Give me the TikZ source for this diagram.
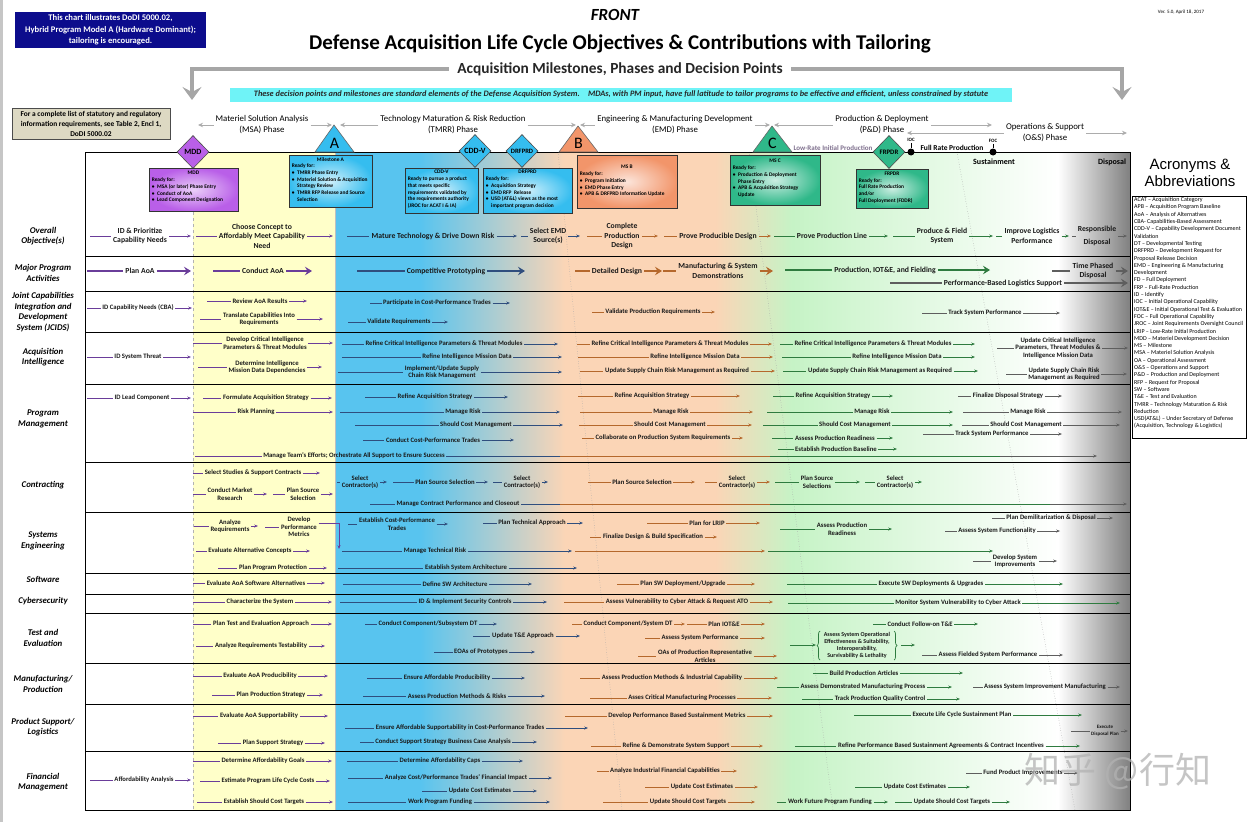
\documentclass[tikz,border=0pt]{standalone}
\usepackage{fontspec}
\setmainfont{Carlito}
\newfontfamily\arialfont{Liberation Sans}
\newfontfamily\cjkfont{Noto Sans CJK SC}
\usetikzlibrary{arrows.meta,shapes.geometric,decorations.pathreplacing}

\definecolor{msacol}{HTML}{6A3D9A}
\definecolor{tmrrcol}{HTML}{2F4E7E}
\definecolor{emdcol}{HTML}{B5682C}
\definecolor{pdcol}{HTML}{2E7B3F}
\definecolor{oscol}{HTML}{5E5E5E}
\definecolor{msabg}{HTML}{FFFFC9}
\definecolor{tmrrbg}{HTML}{58C4EF}
\definecolor{emdbg}{HTML}{FBD5B6}
\definecolor{pdbg}{HTML}{C6F3C6}
\definecolor{osbg}{HTML}{808080}
\definecolor{noteblue}{HTML}{0C0C8C}
\definecolor{tanfill}{HTML}{DDD9C3}
\definecolor{bannerfill}{HTML}{6FF3F7}
\definecolor{mddfill}{HTML}{B95FE8}
\definecolor{tmrrfill}{HTML}{35BDEF}
\definecolor{emdfill}{HTML}{F2956A}
\definecolor{pdfill}{HTML}{2FB889}
\definecolor{lripcol}{HTML}{7D6E8C}
\definecolor{bracketcol}{HTML}{A6A6A6}

\newcommand{\mbul}{\textbullet\enspace}
\newcommand{\mpad}{\phantom{\textbullet\enspace}}

% [node style]{name}{colour}{x start}{x centre}{y}{x end}{text}
\newcommand{\acttask}[8][tasktext]{%
  \node[#1] (#2) at (#5,#6) {#8};
  \coordinate (#2-in) at (#4,#6);
  \coordinate (#2-out) at (#7,#6);
  \draw[#3] (#2-in) -- (#2.west);
  \draw[#3,taskarrow] (#2.east) -- (#2-out);
}
\newcommand{\bigtask}[7]{%
  \node[bigtext] (#1) at (#4,#5) {#7};
  \coordinate (#1-in) at (#3,#5);
  \coordinate (#1-out) at (#6,#5);
  \draw[#2,bigln] (#1-in) -- (#1.west);
  \draw[#2,bigln,bigarrow] (#1.east) -- (#1-out);
}

\tikzset{
  tasktext/.style={font=\bfseries\fontsize{6.7}{7.4}\selectfont, inner sep=1.5pt, align=center, text=black!90},
  bigtext/.style={font=\bfseries\fontsize{7.7}{9.6}\selectfont, inner sep=2pt, align=center, text=black!90},
  rowlabel/.style={font=\bfseries\itshape\fontsize{8.8}{10.4}\selectfont, align=center},
  msaln/.style={draw=msacol, line width=0.7pt},
  tmrrln/.style={draw=tmrrcol, line width=0.7pt},
  emdln/.style={draw=emdcol, line width=0.7pt},
  pdln/.style={draw=pdcol, line width=0.7pt},
  osln/.style={draw=oscol, line width=0.7pt},
  taskarrow/.style={-{Stealth[length=3.8pt,width=3pt]}},
  bigln/.style={line width=2.6pt},
  bigarrow/.style={-{Stealth[length=7pt,width=8.5pt,inset=2.5pt]}},
  rowline/.style={draw=black, line width=0.9pt},
  divider/.style={draw=gray!70, dotted, line width=0.5pt},
  phasetext/.style={font=\fontsize{8.8}{11}\selectfont, align=center, inner sep=2pt},
  phasearrow/.style={draw=gray!65, line width=0.8pt, -{Stealth[length=5pt,width=4.5pt]}},
  msdiamond/.style={diamond, draw=black!70, line width=0.6pt, minimum width=32pt, minimum height=33pt, inner sep=0pt, font=\bfseries\fontsize{8}{8}\selectfont},
  mstri/.style={draw=black!60, line width=0.6pt},
  msletter/.style={font=\fontsize{16}{16}\selectfont, inner sep=0pt},
  infobox/.style={draw=black!80, line width=0.8pt, inner sep=0pt},
  boxtitle/.style={font=\bfseries\fontsize{5.4}{6.8}\selectfont, inner sep=0pt},
  boxbody/.style={font=\bfseries\fontsize{5.4}{6.8}\selectfont, align=left, inner sep=0pt},
  milestonedot/.style={circle, fill=black, inner sep=0pt, minimum size=7pt},
  tinylabel/.style={font=\bfseries\fontsize{5}{5}\selectfont, inner sep=1pt},
  acrotext/.style={font=\fontsize{6}{7.3}\selectfont, align=left, inner sep=0pt},
}

\begin{document}
\begin{tikzpicture}[x=1pt,y=-1pt]
\useasboundingbox (0,0) rectangle (1248,822);
\fill[gray!45] (0,0) rectangle (3,822);

% phase backgrounds
\fill[msabg] (193,152) rectangle (335,810);
\fill[tmrrbg] (335,152) rectangle (420,810);
\shade[left color=tmrrbg, right color=emdbg] (420,152) rectangle (565,810);
\fill[emdbg] (565,152) rectangle (715,810);
\shade[left color=emdbg, right color=pdbg] (715,152) rectangle (792,810);
\shade[left color=pdbg, right color=white] (792,152) rectangle (1058,810);
\shade[left color=white, right color=osbg] (1058,152) rectangle (1130,810);
\draw[gray!60, dashed, line width=0.4pt] (193,152) -- (193,810);
\draw[gray!50, line width=0.4pt] (335,152) -- (335,810);
\draw[divider] (558,152) -- (622,810);
\draw[divider] (749,152) -- (833,810);
\draw[divider] (957,152) -- (1075,810);
\foreach \yy in {256,291,332,384,462,512,573,594,613,663,704,751}
  \draw[rowline] (85,\yy) -- (1130,\yy);
\draw[rowline] (85,152) rectangle (1130,810);

% heading
\node[font=\bfseries\itshape\fontsize{17}{17}\selectfont] (front) at (615,15) {FRONT};
\node[font=\bfseries\fontsize{21}{21}\selectfont] (title) at (620,44) {Defense Acquisition Life Cycle Objectives \& Contributions with Tailoring};
\node[font=\fontsize{5}{5}\selectfont] (version) at (1181,12) {Ver. 5.0, April 18, 2017};
\node[fill=noteblue, text=white, font=\bfseries\fontsize{8.6}{11.5}\selectfont, align=center, minimum width=191pt, minimum height=36pt, inner sep=0pt] (note) at (110.5,30) {This chart illustrates DoDI 5000.02,\\Hybrid Program Model A (Hardware Dominant);\\tailoring is encouraged.};
\draw[draw=bracketcol, line width=4pt, {Stealth[length=13pt,width=19pt,inset=5pt]}-{Stealth[length=13pt,width=19pt,inset=5pt]}] (192,100) -- (192,69) -- (1122,69) -- (1122,100);
\node[fill=white, inner xsep=8pt, font=\bfseries\fontsize{15.4}{15.4}\selectfont, text=black!85] (mstitle) at (620,69) {Acquisition Milestones, Phases and Decision Points};
\node[fill=bannerfill, minimum width=782pt, minimum height=14pt, inner sep=0pt, font=\bfseries\itshape\fontsize{8.3}{8.3}\selectfont, text=black!85] (tailor) at (621,94.5) {These decision points and milestones are standard elements of the Defense Acquisition System.\quad MDAs, with PM input, have full latitude to tailor programs to be effective and efficient, unless constrained by statute};
\node[fill=tanfill, draw=black!70, line width=0.8pt, minimum width=158pt, minimum height=31pt, inner sep=0pt, font=\bfseries\fontsize{7.4}{10}\selectfont, align=center] (reqs) at (91,123.5) {For a complete list of statutory and regulatory\\information requirements, see Table 2, Encl 1,\\DoDI 5000.02};

% phases
\node[phasetext] (phMSA) at (262,125) {Materiel Solution Analysis\\(MSA) Phase};
\draw[phasearrow] (phMSA.west) -- (198,125);
\draw[phasearrow] (phMSA.east) -- (332,125);
\node[phasetext] (phTMRR) at (453,125) {Technology Maturation \& Risk Reduction\\(TMRR) Phase};
\draw[phasearrow] (phTMRR.west) -- (340,125);
\draw[phasearrow] (phTMRR.east) -- (576,125);
\node[phasetext] (phEMD) at (675,125) {Engineering \& Manufacturing Development\\(EMD) Phase};
\draw[phasearrow] (phEMD.west) -- (580,125);
\draw[phasearrow] (phEMD.east) -- (770,125);
\node[phasetext] (phPD) at (882,125) {Production \& Deployment\\(P\&D) Phase};
\draw[phasearrow] (phPD.west) -- (774,125);
\draw[phasearrow] (phPD.east) -- (992,125);
\node[phasetext] (phOS) at (1045,133) {Operations \& Support\\(O\&S) Phase};
\draw[phasearrow] (phOS.west) -- (907,133);
\draw[phasearrow] (phOS.east) -- (1127,133);

% milestones and decision points
\node[msdiamond, fill=mddfill] (mdd) at (193,152) {MDD};
\filldraw[mstri, fill=tmrrfill] (315,152) -- (334,125) -- (354,152) -- cycle;
\node[msletter] (msA) at (334.5,143) {A};
\filldraw[mstri, fill=emdfill] (559,152) -- (578,126) -- (598,152) -- cycle;
\node[msletter] (msB) at (578.5,143) {B};
\filldraw[mstri, fill=pdfill] (753,152) -- (772,126) -- (792,152) -- cycle;
\node[msletter] (msC) at (772.5,143) {C};
\node[msdiamond, fill=tmrrfill] (cddv) at (475,151) {CDD-V};
\node[msdiamond, fill=tmrrfill, font=\bfseries\fontsize{6.6}{6.6}\selectfont] (drfprd) at (522,151) {DRFPRD};
\node[msdiamond, fill=pdfill, font=\bfseries\fontsize{6.8}{6.8}\selectfont] (frpdr) at (889,152) {FRPDR};
\node[milestonedot] (ioc) at (911,152) {};
\node[tinylabel] (ioclbl) at (911,140) {IOC};
\draw[line width=0.6pt] (ioclbl) -- (ioc);
\node[milestonedot] (foc) at (993,152) {};
\node[tinylabel] (foclbl) at (993,141) {FOC};
\draw[line width=0.6pt] (foclbl) -- (foc);
\node[font=\bfseries\fontsize{7}{7}\selectfont, text=lripcol] (lrip) at (833,148) {Low-Rate Initial Production};
\node[font=\bfseries\fontsize{7.5}{7.5}\selectfont] (frp) at (952,148) {Full Rate Production};
\node[font=\bfseries\fontsize{8}{8}\selectfont] (sust) at (994,162) {Sustainment};
\node[font=\bfseries\fontsize{8}{8}\selectfont] (disp) at (1112,162) {Disposal};

% decision boxes
\node[infobox, inner color=mddfill!30, outer color=mddfill, minimum width=89pt, minimum height=43pt] (mddbox) at (193.5,189.5) {};
\node[boxtitle, anchor=north] (mddtitle) at ([yshift=-3pt]mddbox.north) {MDD};
\node[boxbody, anchor=north west] (mddbody) at ([xshift=3pt,yshift=-10pt]mddbox.north west) {Ready for:\\\mbul MSA (or later) Phase Entry\\\mbul Conduct of AoA\\\mbul Lead Component Designation};
\node[infobox, inner color=tmrrfill!25, outer color=tmrrfill, minimum width=83pt, minimum height=52pt] (msabox) at (330.5,181) {};
\node[boxtitle, anchor=north] (msatitle) at ([yshift=-2.5pt]msabox.north) {Milestone A};
\node[boxbody, anchor=north west] (msabody) at ([xshift=3pt,yshift=-9pt]msabox.north west) {Ready for:\\\mbul TMRR Phase Entry\\\mbul Materiel Solution \& Acquisition\\\mpad Strategy Review\\\mbul TMRR RFP Release and Source\\\mpad Selection};
\node[infobox, inner color=tmrrfill!25, outer color=tmrrfill, minimum width=73pt, minimum height=45pt] (cddvbox) at (441.5,190.5) {};
\node[boxtitle, anchor=north] (cddvtitle) at ([yshift=-2.5pt]cddvbox.north) {CDD-V};
\node[boxbody, anchor=north west] (cddvbody) at ([xshift=3pt,yshift=-9pt]cddvbox.north west) {Ready to pursue a product\\that meets specific\\requirements validated by\\the requirements authority\\(JROC for ACAT I \& IA)};
\node[infobox, inner color=tmrrfill!25, outer color=tmrrfill, minimum width=89pt, minimum height=45pt] (drfbox) at (527.5,190.5) {};
\node[boxtitle, anchor=north] (drftitle) at ([yshift=-2.5pt]drfbox.north) {DRFPRD};
\node[boxbody, anchor=north west] (drfbody) at ([xshift=3pt,yshift=-9pt]drfbox.north west) {Ready for:\\\mbul Acquisition Strategy\\\mbul EMD RFP\ \ Release\\\mbul USD (AT\&L) views as the most\\\mpad important program decision};
\node[infobox, inner color=emdfill!25, outer color=emdfill, minimum width=100pt, minimum height=53pt] (msbbox) at (627,181.5) {};
\node[boxtitle, anchor=north] (msbtitle) at ([yshift=-10pt]msbbox.north) {MS B};
\node[boxbody, anchor=north west] (msbbody) at ([xshift=3pt,yshift=-17pt]msbbox.north west) {Ready for:\\\mbul Program Initiation\\\mbul EMD Phase Entry\\\mbul APB \& DRFPRD Information Update};
\node[infobox, inner color=pdfill!25, outer color=pdfill, minimum width=90pt, minimum height=50pt] (mscbox) at (775,180) {};
\node[boxtitle, anchor=north] (msctitle) at ([yshift=-4pt]mscbox.north) {MS C};
\node[boxbody, anchor=north west] (mscbody) at ([xshift=3pt,yshift=-11pt]mscbox.north west) {Ready for:\\\mbul Production \& Deployment\\\mpad Phase Entry\\\mbul APB \& Acquisition Strategy\\\mpad Update};
\node[infobox, inner color=pdfill!25, outer color=pdfill, minimum width=72pt, minimum height=39pt] (frpbox) at (892,188.5) {};
\node[boxtitle, anchor=north] (frptitle) at ([yshift=-3pt]frpbox.north) {FRPDR};
\node[boxbody, anchor=north west] (frpbody) at ([xshift=3pt,yshift=-9.5pt]frpbox.north west) {Ready for:\\Full Rate Production\\and/or\\Full Deployment (FDDR)};

% row labels
\node[rowlabel] (lbl1) at (43,236) {Overall\\Objective(s)};
\node[rowlabel] (lbl2) at (43,273) {Major Program\\Activities};
\node[rowlabel] (lbl3) at (43,312) {Joint Capabilities\\Integration and\\Development\\System (JCIDS)};
\node[rowlabel] (lbl4) at (43,357) {Acquisition\\Intelligence};
\node[rowlabel] (lbl5) at (43,419) {Program\\Management};
\node[rowlabel] (lbl6) at (43,485) {Contracting};
\node[rowlabel] (lbl7) at (43,541) {Systems\\Engineering};
\node[rowlabel] (lbl8) at (43,579) {Software};
\node[rowlabel] (lbl9) at (43,601) {Cybersecurity};
\node[rowlabel] (lbl10) at (43,638) {Test and\\Evaluation};
\node[rowlabel] (lbl11) at (43,684) {Manufacturing/\\Production};
\node[rowlabel] (lbl12) at (43,727) {Product Support/\\Logistics};
\node[rowlabel] (lbl13) at (43,782) {Financial\\Management};

% overall objectives
\acttask[bigtext]{objA}{msaln}{90}{140}{236}{191}{ID \& Prioritize\\Capability Needs}
\acttask[bigtext]{objB}{msaln}{196}{262}{236}{333}{Choose Concept to\\Affordably Meet Capability\\Need}
\acttask[bigtext]{objC}{tmrrln}{347}{433}{236}{517}{Mature Technology \& Drive Down Risk}
\acttask[bigtext]{objD}{tmrrln}{521}{548}{236}{580}{Select EMD\\Source(s)}
\acttask[bigtext]{objE}{emdln}{587}{622}{236}{658}{Complete\\Production\\Design}
\acttask[bigtext]{objF}{emdln}{664}{718}{236}{771}{Prove Producible Design}
\acttask[bigtext]{objG}{pdln}{774}{832}{236}{888}{Prove Production Line}
\acttask[bigtext]{objH}{pdln}{893}{942}{236}{993}{Produce \& Field\\System}
\acttask[bigtext]{objI}{pdln}{996}{1032}{236}{1069}{Improve Logistics\\Performance}
\acttask[bigtext]{objJ}{osln}{1072}{1097}{236}{1127}{Responsible\\[3pt]Disposal}

% major program activities
\bigtask{mpaA}{msaln}{87}{140}{271}{191}{Plan AoA}
\bigtask{mpaB}{msaln}{213}{263}{271}{312}{Conduct AoA}
\bigtask{mpaC}{tmrrln}{357}{446}{271}{525}{Competitive Prototyping}
\bigtask{mpaD}{emdln}{575}{617}{271}{662}{Detailed Design}
\bigtask{mpaE}{emdln}{663}{718}{271}{773}{Manufacturing \& System\\Demonstrations}
\bigtask{mpaF}{pdln}{785}{885}{270}{990}{Production, IOT\&E, and Fielding}
\bigtask{mpaG}{osln}{1052}{1093}{271}{1128}{Time Phased\\Disposal}
\bigtask{mpaH}{osln}{890}{1003}{283}{1128}{Performance-Based Logistics Support}

% JCIDS
\acttask{jA}{msaln}{87}{138}{308}{192}{ID Capability Needs (CBA)}
\acttask{jB}{msaln}{207}{260}{301}{307}{Review AoA Results}
\acttask{jC}{msaln}{200}{259}{319}{323}{Translate Capabilities Into\\Requirements}
\acttask{jD}{tmrrln}{370}{437}{303}{510}{Participate in Cost-Performance Trades}
\acttask{jE}{tmrrln}{348}{399}{322}{448}{Validate Requirements}
\acttask{jF}{emdln}{592}{653}{312}{715}{Validate Production Requirements}
\acttask{jG}{osln}{922}{985}{313}{1060}{Track System Performance}

% acquisition intelligence
\acttask{aA}{msaln}{87}{138}{357}{191}{ID System Threat}
\acttask{aB}{msaln}{193}{265}{343}{333}{Develop Critical Intelligence\\Parameters \& Threat Modules}
\acttask{aC}{msaln}{198}{267}{367}{322}{Determine Intelligence\\Mission Data Dependencies}
\acttask{aD}{tmrrln}{342}{444}{344}{558}{Refine Critical Intelligence Parameters \& Threat Modules}
\acttask{aE}{tmrrln}{342}{467}{357}{562}{Refine Intelligence Mission Data}
\acttask{aF}{tmrrln}{338}{442}{372}{562}{Implement/Update Supply\\Chain Risk Management}
\acttask{aG}{emdln}{577}{670}{344}{772}{Refine Critical Intelligence Parameters \& Threat Modules}
\acttask{aH}{emdln}{578}{695}{357}{773}{Refine Intelligence Mission Data}
\acttask{aI}{emdln}{580}{677}{371}{775}{Update Supply Chain Risk Management as Required}
\acttask{aJ}{pdln}{780}{873}{344}{975}{Refine Critical Intelligence Parameters \& Threat Modules}
\acttask{aK}{pdln}{782}{897}{357}{975}{Refine Intelligence Mission Data}
\acttask{aL}{pdln}{783}{880}{371}{978}{Update Supply Chain Risk Management as Required}
\acttask{aM}{osln}{997}{1058}{348}{1128}{Update Critical Intelligence\\Parameters, Threat Modules \&\\Intelligence Mission Data}
\acttask{aN}{osln}{1006}{1064}{374}{1127}{Update Supply Chain Risk\\Management as Required}

% program management
\acttask{pA}{msaln}{87}{142}{398}{191}{ID Lead Component}
\acttask{pB}{msaln}{203}{266}{398}{332}{Formulate Acquisition Strategy}
\acttask{pC}{msaln}{193}{256}{412}{333}{Risk Planning}
\acttask{pD}{tmrrln}{365}{435}{397}{508}{Refine Acquisition Strategy}
\acttask{pE}{tmrrln}{340}{463}{412}{560}{Manage Risk}
\acttask{pF}{tmrrln}{355}{476}{425}{563}{Should Cost Management}
\acttask{pG}{tmrrln}{363}{433}{440}{514}{Conduct Cost-Performance Trades}
\node[tasktext] (pH) at (354,456) {Manage Team's Efforts; Orchestrate All Support to Ensure Success};
\coordinate (pH-in) at (195,456);
\coordinate (pHa) at (560,456);
\coordinate (pHb) at (770,456);
\coordinate (pHc) at (1000,456);
\coordinate (pH-out) at (1097,456);
\draw[msaln] (pH-in) -- (pH.west);
\draw[tmrrln] (pH.east) -- (pHa);
\draw[emdln] (pHa) -- (pHb);
\draw[pdln] (pHb) -- (pHc);
\draw[osln,taskarrow] (pHc) -- (pH-out);
\acttask{pI}{emdln}{578}{652}{396}{740}{Refine Acquisition Strategy}
\acttask{pJ}{emdln}{580}{671}{412}{753}{Manage Risk}
\acttask{pK}{emdln}{579}{670}{425}{752}{Should Cost Management}
\acttask{pL}{emdln}{582}{663}{438}{743}{Collaborate on Production System Requirements}
\acttask{pM}{pdln}{773}{833}{396}{893}{Refine Acquisition Strategy}
\acttask{pN}{pdln}{767}{872}{412}{953}{Manage Risk}
\acttask{pO}{pdln}{763}{855}{425}{953}{Should Cost Management}
\acttask{pP}{pdln}{772}{835}{438}{893}{Assess Production Readiness}
\acttask{pQ}{pdln}{778}{836}{449}{897}{Establish Production Baseline}
\acttask{pR}{osln}{923}{992}{434}{1062}{Track System Performance}
\acttask{pS}{osln}{958}{1008}{396}{1062}{Finalize Disposal Strategy}
\acttask{pT}{osln}{963}{1028}{412}{1122}{Manage Risk}
\acttask{pU}{osln}{962}{1026}{425}{1120}{Should Cost Management}

% contracting
\acttask{cA}{msaln}{193}{253}{473}{320}{Select Studies \& Support Contracts}
\acttask{cB}{msaln}{193}{230}{494}{267}{Conduct Market\\Research}
\acttask{cC}{msaln}{273}{303}{494}{333}{Plan Source\\Selection}
\acttask{cD}{tmrrln}{337}{360}{482}{387}{Select\\Contractor(s)}
\acttask{cE}{tmrrln}{393}{445}{482}{488}{Plan Source Selection}
\acttask{cF}{tmrrln}{493}{522}{482}{548}{Select\\Contractor(s)}
\node[tasktext] (cG) at (458,504) {Manage Contract Performance and Closeout};
\coordinate (cG-in) at (370,504);
\coordinate (cGa) at (560,504);
\coordinate (cGb) at (770,504);
\coordinate (cGc) at (1050,504);
\coordinate (cG-out) at (1127,504);
\draw[tmrrln] (cG-in) -- (cG.west);
\draw[tmrrln] (cG.east) -- (cGa);
\draw[emdln] (cGa) -- (cGb);
\draw[pdln] (cGb) -- (cGc);
\draw[osln,taskarrow] (cGc) -- (cG-out);
\acttask{cH}{emdln}{588}{642}{482}{695}{Plan Source Selection}
\acttask{cI}{emdln}{705}{737}{482}{770}{Select\\Contractor(s)}
\acttask{cJ}{pdln}{775}{817}{482}{860}{Plan Source\\Selections}
\acttask{cK}{pdln}{865}{895}{482}{922}{Select\\Contractor(s)}

% systems engineering
\acttask{sA}{msaln}{194}{230}{526}{258}{Analyze\\Requirements}
\node[tasktext] (sB) at (299,527) {Develop\\Performance\\Metrics};
\coordinate (sB-in) at (265,527);
\coordinate (sBbend) at (339,523);
\coordinate (sB-out) at (339,549);
\draw[msaln] (sB-in) -- (sB.west);
\draw[msaln,taskarrow] (sB.east |- sBbend) -- (sBbend) -- (sB-out);
\acttask{sC}{msaln}{196}{250}{551}{310}{Evaluate Alternative Concepts}
\acttask{sD}{msaln}{218}{273}{568}{327}{Plan Program Protection}
\acttask{sE}{tmrrln}{348}{397}{524}{448}{Establish Cost-Performance\\Trades}
\acttask{sF}{tmrrln}{483}{532}{523}{583}{Plan Technical Approach}
\node[tasktext] (sG) at (435,551) {Manage Technical Risk};
\coordinate (sG-in) at (342,551);
\coordinate (sGa) at (572,551);
\coordinate (sGb) at (575,551);
\coordinate (sGc) at (765,551);
\coordinate (sGd) at (768,551);
\coordinate (sG-out) at (993,551);
\draw[tmrrln] (sG-in) -- (sG.west);
\draw[tmrrln,taskarrow] (sG.east) -- (sGa);
\draw[emdln,taskarrow] (sGb) -- (sGc);
\draw[pdln,taskarrow] (sGd) -- (sG-out);
\acttask{sH}{tmrrln}{338}{466}{568}{577}{Establish System Architecture}
\acttask{sI}{emdln}{647}{707}{523}{760}{Plan for LRIP}
\acttask{sJ}{emdln}{590}{653}{537}{717}{Finalize Design \& Build Specification}
\acttask{sK}{pdln}{780}{842}{529}{892}{Assess Production\\Readiness}
\acttask{sL}{osln}{992}{1051}{518}{1113}{Plan Demilitarization \& Disposal}
\acttask{sM}{osln}{945}{997}{531}{1060}{Assess System Functionality}
\acttask{sN}{osln}{973}{1015}{561}{1057}{Develop System\\Improvements}

% software
\acttask{swA}{msaln}{193}{256}{583}{325}{Evaluate AoA Software Alternatives}
\acttask{swB}{tmrrln}{343}{455}{584}{532}{Define SW Architecture}
\acttask{swC}{emdln}{617}{683}{584}{755}{Plan SW Deployment/Upgrade}
\acttask{swD}{pdln}{787}{931}{584}{1063}{Execute SW Deployments \& Upgrades}

% cybersecurity
\acttask{cyA}{msaln}{193}{260}{602}{332}{Characterize the System}
\acttask{cyB}{tmrrln}{340}{465}{602}{547}{ID \& Implement Security Controls}
\acttask{cyC}{emdln}{564}{677}{602}{773}{Assess Vulnerability to Cyber Attack \& Request ATO}
\acttask{cyD}{pdln}{788}{958}{603}{1120}{Monitor System Vulnerability to Cyber Attack}

% test and evaluation
\acttask{tA}{msaln}{193}{261}{624}{332}{Plan Test and Evaluation Approach}
\acttask{tB}{msaln}{196}{261}{646}{325}{Analyze Requirements Testability}
\acttask{tC}{tmrrln}{365}{428}{624}{497}{Conduct Component/Subsystem DT}
\acttask{tD}{tmrrln}{473}{523}{636}{580}{Update T\&E Approach}
\acttask{tE}{tmrrln}{434}{481}{652}{535}{EOAs of Prototypes}
\acttask{tF}{emdln}{572}{628}{624}{685}{Conduct Component/System DT}
\acttask{tG}{emdln}{687}{724}{624}{765}{Plan IOT\&E}
\acttask{tH}{emdln}{645}{700}{638}{765}{Assess System Performance}
\acttask{tI}{emdln}{638}{705}{656}{777}{OAs of Production Representative\\Articles}
\node[tasktext, font=\bfseries\fontsize{6}{7}\selectfont] (tK) at (857,645) {Assess System Operational\\Effectiveness \& Suitability,\\Interoperability,\\Survivability \& Lethality};
\coordinate (tJ-in) at (790,645);
\coordinate (tJ-out) at (816,645);
\draw[pdln,taskarrow] (tJ-in) -- (tJ-out);
\draw[pdln, decorate, decoration={brace, amplitude=3pt}] (820,660) -- (820,631);
\draw[pdln, decorate, decoration={brace, amplitude=3pt}] (894,631) -- (894,660);
\coordinate (tK-in) at (901,645);
\coordinate (tK-out) at (915,645);
\draw[pdln,taskarrow] (tK-in) -- (tK-out);
\acttask{tL}{pdln}{873}{920}{624}{978}{Conduct Follow-on T\&E}
\acttask{tM}{osln}{922}{988}{655}{1063}{Assess Fielded System Performance}

% manufacturing / production
\acttask{mA}{msaln}{193}{260}{676}{328}{Evaluate AoA Producibility}
\acttask{mB}{msaln}{212}{271}{695}{323}{Plan Production Strategy}
\acttask{mC}{tmrrln}{367}{447}{678}{525}{Ensure Affordable Producibility}
\acttask{mD}{tmrrln}{363}{457}{696}{545}{Assess Production Methods \& Risks}
\acttask{mE}{emdln}{580}{672}{678}{778}{Assess Production Methods \& Industrial Capability}
\acttask{mF}{emdln}{590}{682}{698}{772}{Asses Critical Manufacturing Processes}
\acttask{mG}{pdln}{813}{864}{673}{963}{Build Production Articles}
\acttask{mH}{pdln}{777}{863}{687}{952}{Assess Demonstrated Manufacturing Process}
\acttask{mI}{pdln}{802}{880}{699}{960}{Track Production Quality Control}
\acttask{mJ}{osln}{973}{1045}{687}{1120}{Assess System Improvement Manufacturing}

% product support / logistics
\acttask{lA}{msaln}{193}{259}{716}{328}{Evaluate AoA Supportability}
\acttask{lB}{msaln}{218}{273}{743}{325}{Plan Support Strategy}
\acttask{lC}{tmrrln}{345}{460}{728}{588}{Ensure Affordable Supportability in Cost-Performance Trades}
\acttask{lD}{tmrrln}{360}{443}{742}{537}{Conduct Support Strategy Business Case Analysis}
\acttask{lE}{emdln}{565}{677}{716}{773}{Develop Performance Based Sustainment Metrics}
\acttask{lF}{emdln}{591}{676}{746}{763}{Refine \& Demonstrate System Support}
\acttask{lG}{pdln}{795}{941}{746}{1080}{Refine Performance Based Sustainment Agreements \& Contract Incentives}
\acttask{lH}{pdln}{854}{962}{715}{1082}{Execute Life Cycle Sustainment Plan}
\acttask[tasktext,font=\bfseries\fontsize{5}{6.5}\selectfont]{lI}{osln}{1071}{1105}{731}{1128}{Execute\\Disposal Plan}

% financial management
\acttask{fA}{msaln}{90}{144}{780}{191}{Affordability Analysis}
\acttask{fB}{msaln}{193}{263}{761}{332}{Determine Affordability Goals}
\acttask{fC}{msaln}{200}{268}{781}{330}{Estimate Program Life Cycle Costs}
\acttask{fD}{msaln}{197}{264}{802}{333}{Establish Should Cost Targets}
\acttask{fE}{tmrrln}{347}{440}{761}{523}{Determine Affordability Caps}
\acttask{fF}{tmrrln}{348}{456}{778}{552}{Analyze Cost/Performance Trades' Financial Impact}
\acttask{fG}{tmrrln}{422}{480}{791}{537}{Update Cost Estimates}
\acttask{fH}{tmrrln}{348}{440}{802}{550}{Work Program Funding}
\acttask{fI}{emdln}{597}{665}{771}{737}{Analyze Industrial Financial Capabilities}
\acttask{fJ}{emdln}{645}{702}{787}{758}{Update Cost Estimates}
\acttask{fK}{emdln}{603}{688}{802}{755}{Update Should Cost Targets}
\acttask{fL}{pdln}{777}{830}{802}{888}{Work Future Program Funding}
\acttask{fM}{pdln}{895}{952}{802}{1010}{Update Should Cost Targets}
\acttask{fN}{pdln}{855}{915}{787}{970}{Update Cost Estimates}
\acttask{fO}{osln}{966}{1023}{773}{1078}{Fund Product Improvements}

% acronyms
\node[font=\arialfont\fontsize{15}{17}\selectfont, align=center] (acrohead) at (1190,173) {Acronyms \&\\Abbreviations};
\node[draw=black, line width=1pt, minimum width=114pt, minimum height=242pt, inner sep=0pt] (acrobox) at (1189,317) {};
\node[acrotext, anchor=north west] (acrolist) at ([xshift=2.5pt,yshift=-1.8pt]acrobox.north west) {%
ACAT – Acquisition Category\\
APB – Acquisition Program Baseline\\
AoA – Analysis of Alternatives\\
CBA- Capabilities-Based Assessment\\
CDD-V – Capability Development Document\\
Validation\\
DT – Developmental Testing\\
DRFPRD – Development Request for\\
Proposal Release Decision\\
EMD – Engineering \& Manufacturing\\
Development\\
FD – Full Deployment\\
FRP – Full-Rate Production\\
ID – Identify\\
IOC – Initial Operational Capability\\
IOT\&E – Initial Operational Test \& Evaluation\\
FOC – Full Operational Capability\\
JROC – Joint Requirements Oversight Council\\
LRIP – Low-Rate Initial Production\\
MDD – Materiel Development Decision\\
MS – Milestone\\
MSA – Materiel Solution Analysis\\
OA – Operational Assessment\\
O\&S – Operations and Support\\
P\&D – Production and Deployment\\
RFP – Request for Proposal\\
SW – Software\\
T\&E – Test and Evaluation\\
TMRR – Technology Maturation \& Risk\\
Reduction\\
USD(AT\&L) – Under Secretary of Defense\\
(Acquisition, Technology \& Logistics)};

\node[font=\cjkfont\fontsize{36}{36}\selectfont, text=gray!60, opacity=0.75] (zhihu) at (1118,771) {知乎 @行知};
\end{tikzpicture}
\end{document}
